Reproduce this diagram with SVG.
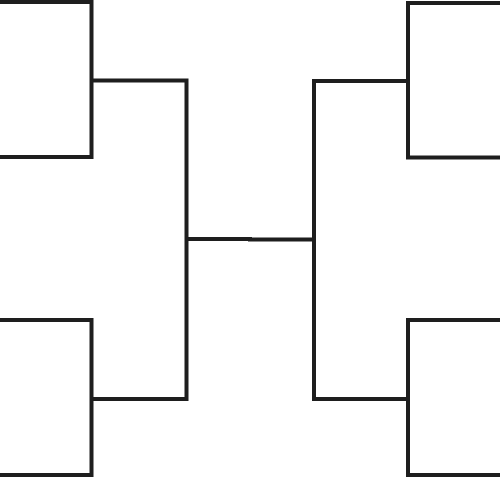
<svg xmlns="http://www.w3.org/2000/svg" width="500" height="479" viewBox="0 0 500 479">
<style>
.box{fill:#fff;stroke:#1e1e1e;stroke-width:4}
.con{fill:none;stroke:#1e1e1e;stroke-width:4;stroke-linecap:square;stroke-linejoin:miter}
</style>
<rect width="500" height="479" fill="#fff"/>
<g id="connectors">
<path class="con" d="M93,80.5 H186.5 V399 H93"/>
<path class="con" d="M406,81 H314 V399 H406"/>
<path class="con" d="M188,239 H250 V239.5 H312"/>
</g>
<g id="box-top-left"><rect class="box" x="-10" y="2" width="101.5" height="155"/></g>
<g id="box-bottom-left"><rect class="box" x="-10" y="320" width="101.5" height="155"/></g>
<g id="box-top-right"><rect class="box" x="408" y="3" width="110" height="154.5"/></g>
<g id="box-bottom-right"><rect class="box" x="408" y="320" width="110" height="155"/></g>
</svg>
